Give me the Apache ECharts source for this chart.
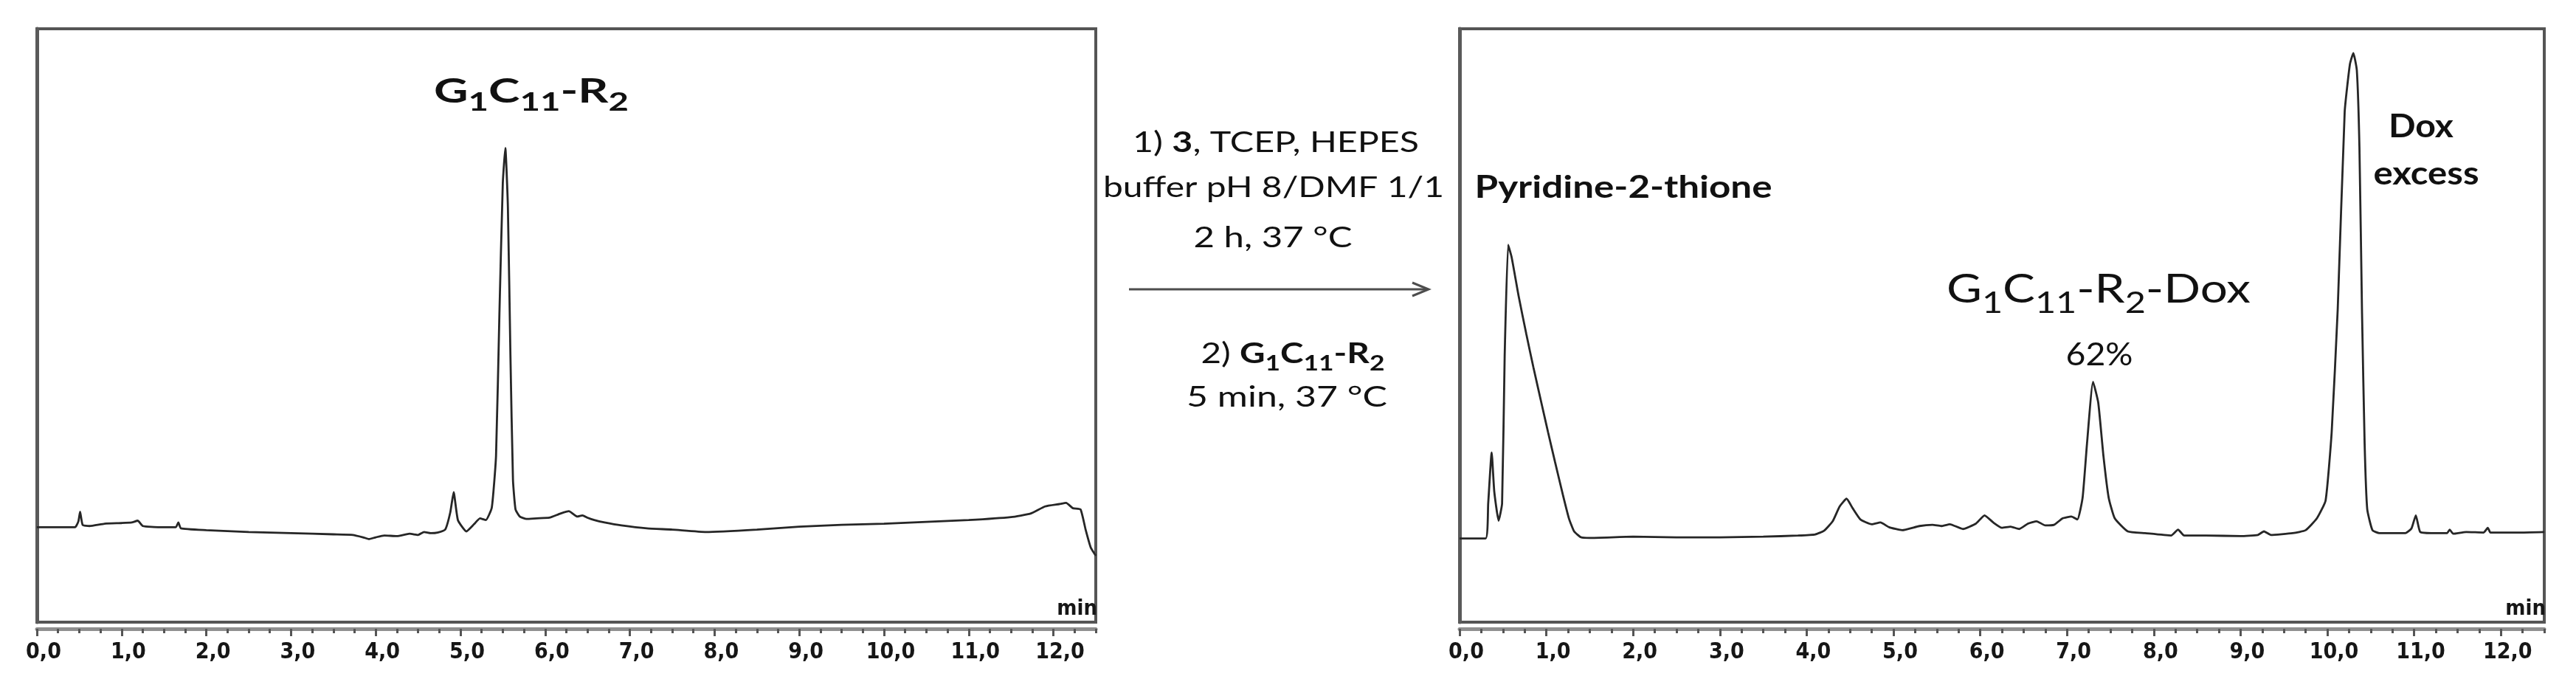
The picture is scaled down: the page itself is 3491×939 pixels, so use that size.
<!DOCTYPE html>
<html>
<head>
<meta charset="utf-8">
<title>HPLC traces</title>
<script src="https://cdn.jsdelivr.net/npm/echarts@6/dist/echarts.min.js"></script>
<style>
  html, body { margin: 0; padding: 0; background: #fff; }
  #chart { width: 3491px; height: 939px; }
</style>
</head>
<body>
<div id="chart"></div>
<script>
// retention time (min) / signal (% of frame height)
var beforeTime = [0, 0.45, 0.49, 0.51, 0.54, 0.62, 0.8, 1.0, 1.12, 1.19, 1.25, 1.45, 1.64, 1.67, 1.7, 2.0, 2.5, 3.0, 3.5, 3.73,
  3.85, 3.92, 4.0, 4.1, 4.25, 4.4, 4.5, 4.57, 4.65, 4.73, 4.82, 4.88, 4.92, 4.97, 5.07, 5.16, 5.23, 5.3, 5.37, 5.42,
  5.46, 5.5, 5.53, 5.56, 5.59, 5.62, 5.65, 5.7, 5.78, 5.9, 6.05, 6.18, 6.28, 6.38, 6.44, 6.5, 6.58, 6.7, 6.9, 7.2,
  7.5, 7.9, 8.5, 9.0, 9.5, 10.0, 10.5, 11.0, 11.5, 11.73, 11.9, 12.07, 12.15, 12.23, 12.32, 12.38, 12.44, 12.5];
var beforeSignal = [16.0, 16.0, 17.0, 18.6, 16.4, 16.2, 16.6, 16.7, 16.8, 17.1, 16.2, 16.0, 16.0, 16.8, 15.8, 15.5, 15.2, 15.0, 14.8, 14.7,
  14.3, 14.0, 14.3, 14.6, 14.5, 14.9, 14.7, 15.2, 15.0, 15.1, 15.6, 18.5, 21.9, 17.2, 15.3, 16.5, 17.5, 17.2, 19.3, 28,
  52, 74, 79.9, 70, 45, 24, 19.0, 17.8, 17.4, 17.5, 17.6, 18.3, 18.7, 17.8, 18.0, 17.6, 17.2, 16.8, 16.3, 15.8,
  15.6, 15.2, 15.6, 16.1, 16.4, 16.6, 16.9, 17.2, 17.7, 18.3, 19.5, 19.9, 20.1, 19.2, 19.0, 15.6, 12.6, 11.2];

var afterTime = [0, 0.3, 0.33, 0.37, 0.4, 0.45, 0.49, 0.52, 0.56, 0.6, 0.68, 0.77, 0.85, 0.95, 1.02, 1.1, 1.19, 1.26, 1.32, 1.4,
  1.5, 2.0, 2.5, 3.0, 3.5, 3.9, 4.1, 4.2, 4.3, 4.38, 4.46, 4.53, 4.62, 4.75, 4.85, 4.95, 5.1, 5.3, 5.45, 5.55,
  5.65, 5.8, 5.95, 6.05, 6.15, 6.25, 6.35, 6.45, 6.55, 6.65, 6.75, 6.85, 6.95, 7.05, 7.12, 7.18, 7.23, 7.3, 7.36, 7.42,
  7.48, 7.55, 7.7, 7.9, 8.2, 8.28, 8.35, 8.6, 9.0, 9.2, 9.27, 9.35, 9.6, 9.75, 9.88, 9.98, 10.05, 10.12, 10.2, 10.26,
  10.3, 10.34, 10.37, 10.4, 10.43, 10.46, 10.52, 10.6, 10.9, 10.97, 11.02, 11.07, 11.2, 11.38, 11.41, 11.45, 11.6, 11.8, 11.85, 11.88,
  12.2, 12.5];
var afterSignal = [14.1, 14.1, 20, 28.6, 22, 17.1, 20, 45, 63.6, 61.5, 55, 48.5, 43, 36.5, 32, 27, 21.5, 17.5, 15.3, 14.3,
  14.2, 14.4, 14.3, 14.3, 14.4, 14.6, 14.8, 15.4, 17.0, 19.5, 20.8, 19.2, 17.3, 16.5, 16.8, 16.0, 15.5, 16.2, 16.4, 16.2,
  16.5, 15.7, 16.6, 18.0, 16.8, 15.9, 16.1, 15.7, 16.6, 17.0, 16.3, 16.4, 17.5, 17.8, 17.3, 21, 30, 40.5, 37, 28,
  21, 17.5, 15.3, 15.0, 14.6, 15.6, 14.6, 14.6, 14.5, 14.7, 15.3, 14.7, 15.0, 15.5, 17.5, 20.5, 32, 52.8, 86, 94,
  95.9, 93, 80, 52, 30, 19, 15.5, 15.0, 15.0, 15.8, 18.0, 15.2, 15.0, 15.0, 15.6, 14.9, 15.2, 15.1, 15.9, 15.1,
  15.1, 15.2];

var tickLabels = ['0,0', '1,0', '2,0', '3,0', '4,0', '5,0', '6,0', '7,0', '8,0', '9,0', '10,0', '11,0', '12,0'];

var FONT = 'Lato, "Noto Sans", sans-serif';
var AXIS_FONT = '"DejaVu Sans Condensed", "Liberation Sans", Arial, sans-serif';

function pairs(xs, ys) {
  return xs.map(function (x, i) { return [x, ys[i]]; });
}

// measure with canvas so the annotation can be stretched to the width seen in the picture
var measureCtx = document.createElement('canvas').getContext('2d');
function textWidth(str, size, bold) {
  measureCtx.font = (bold ? 'bold ' : '') + size + 'px ' + FONT;
  return measureCtx.measureText(str).width;
}

// parts: [text, style]  style = n (normal) | b (bold) | ns / bs (subscript)
function annotation(cx, cy, width, size, parts) {
  var sub = Math.round(size * 0.74);
  var lh = Math.round(size * 1.2);
  var drop = Math.round(size * 0.68);
  var rich = {
    n: { fontSize: size, fontFamily: FONT, lineHeight: lh },
    b: { fontSize: size, fontFamily: FONT, fontWeight: 'bold', lineHeight: lh },
    ns: { fontSize: sub, fontFamily: FONT, lineHeight: lh, padding: [drop, 0, 0, 0] },
    bs: { fontSize: sub, fontFamily: FONT, fontWeight: 'bold', lineHeight: lh, padding: [drop, 0, 0, 0] }
  };
  var natural = 0;
  var text = parts.map(function (p) {
    natural += textWidth(p[0], p[1].indexOf('s') > 0 ? sub : size, p[1].charAt(0) === 'b');
    return '{' + p[1] + '|' + p[0] + '}';
  }).join('');
  return {
    type: 'text', x: cx, y: cy, scaleX: width / natural, z: 100,
    style: {
      text: text, rich: rich, fill: '#111',
      align: 'center', verticalAlign: 'middle',
      textAlign: 'center', textVerticalAlign: 'middle'
    }
  };
}

function minLabel(right) {
  return {
    type: 'text', x: right, y: 825, z: 100,
    style: {
      text: 'min', fill: '#161616', font: 'bold 29px ' + AXIS_FONT,
      align: 'right', verticalAlign: 'middle', textAlign: 'right', textVerticalAlign: 'middle'
    }
  };
}

function majorAxis(grid) {
  return {
    type: 'value', gridIndex: grid, position: 'bottom', offset: 9,
    min: 0, max: 12.5, interval: 1,
    axisLine: { onZero: false, lineStyle: { color: '#8f8f8f', width: 5 } },
    axisTick: { length: 10, lineStyle: { color: '#555', width: 3 } },
    axisLabel: {
      formatter: function (v) { return tickLabels[Math.round(v)] || ''; },
      showMaxLabel: false,
      fontFamily: AXIS_FONT, fontWeight: 'bold', fontSize: 30, color: '#161616',
      margin: 17, padding: [0, 0, 0, 18]
    },
    splitLine: { show: false }
  };
}

function minorAxis(grid) {
  return {
    type: 'value', gridIndex: grid, position: 'bottom', offset: 9,
    min: 0, max: 12.5, interval: 0.25,
    axisLine: { show: false, onZero: false },
    axisTick: { length: 6, lineStyle: { color: '#555', width: 3 } },
    axisLabel: { show: false },
    splitLine: { show: false }
  };
}

function signalAxis(grid) {
  return {
    type: 'value', gridIndex: grid, min: 0, max: 100, position: 'left',
    axisLine: { show: true, onZero: false, lineStyle: { color: '#5a5a5a', width: 5 } },
    axisTick: { show: false },
    axisLabel: { show: false },
    splitLine: { show: false }
  };
}

function trace(axis, xs, ys) {
  return {
    type: 'line', xAxisIndex: axis * 2, yAxisIndex: axis,
    data: pairs(xs, ys),
    symbol: 'none', smooth: 0.15,
    lineStyle: { color: '#262626', width: 2.8 }
  };
}

var myChart = echarts.init(document.getElementById('chart'));
myChart.setOption({
  backgroundColor: '#fff',
  animation: false,
  grid: [
    { left: 50, top: 39, width: 1435, height: 804, show: true, borderColor: '#555', borderWidth: 4 },
    { left: 1978, top: 39, width: 1470, height: 804, show: true, borderColor: '#555', borderWidth: 4 }
  ],
  xAxis: [majorAxis(0), minorAxis(0), majorAxis(1), minorAxis(1)],
  yAxis: [signalAxis(0), signalAxis(1)],
  series: [
    trace(0, beforeTime, beforeSignal),
    trace(1, afterTime, afterSignal)
  ],
  graphic: [
    // left panel
    annotation(720, 124, 264, 46, [['G', 'b'], ['1', 'bs'], ['C', 'b'], ['11', 'bs'], ['-R', 'b'], ['2', 'bs']]),
    minLabel(1487),
    // reaction arrow and conditions
    annotation(1729, 193, 388, 39, [['1) ', 'n'], ['3', 'b'], [', TCEP, HEPES', 'n']]),
    annotation(1726, 254, 462, 39, [['buffer pH 8/DMF 1/1', 'n']]),
    annotation(1725, 322, 215, 39, [['2 h, 37 \u00b0C', 'n']]),
    {
      type: 'polyline', z: 100,
      shape: { points: [[1530, 392], [1935, 392]] },
      style: { stroke: '#4d4d4d', lineWidth: 3, fill: null }
    },
    {
      type: 'polyline', z: 100,
      shape: { points: [[1914, 383], [1936, 392], [1914, 401]] },
      style: { stroke: '#4d4d4d', lineWidth: 3, fill: null }
    },
    annotation(1752, 479, 249, 39, [['2) ', 'n'], ['G', 'b'], ['1', 'bs'], ['C', 'b'], ['11', 'bs'], ['-R', 'b'], ['2', 'bs']]),
    annotation(1744, 538, 272, 39, [['5 min, 37 \u00b0C', 'n']]),
    // right panel
    annotation(2200, 254, 403, 42, [['Pyridine-2-thione', 'b']]),
    annotation(2844, 393, 412, 54, [['G', 'n'], ['1', 'ns'], ['C', 'n'], ['11', 'ns'], ['-R', 'n'], ['2', 'ns'], ['-Dox', 'n']]),
    annotation(2845, 481, 91, 42, [['62%', 'n']]),
    annotation(3281, 172, 88, 44, [['Dox', 'b']]),
    annotation(3288, 236, 143, 44, [['excess', 'b']]),
    minLabel(3450)
  ]
});
</script>
</body>
</html>
